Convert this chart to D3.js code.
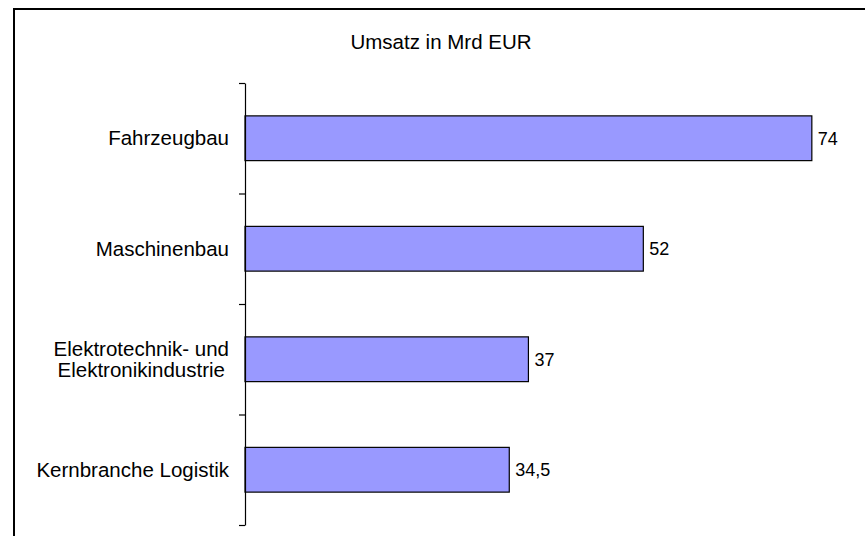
<!DOCTYPE html>
<html>
<head>
<meta charset="utf-8">
<script src="https://cdn.jsdelivr.net/npm/d3@7"></script>
<style>
  html, body { margin: 0; padding: 0; background: #fff; }
  svg { display: block; font-family: "Liberation Sans", Arial, sans-serif; }
</style>
</head>
<body>
<svg id="chart" width="865" height="536"></svg>
<script>
// ---- data ----
const title = "Umsatz in Mrd EUR";
const categories = ["Fahrzeugbau", "Maschinenbau", "Elektrotechnik- und\nElektronikindustrie", "Kernbranche Logistik"];
const values = [74, 52, 37, 34.5];
const valueLabels = ["74", "52", "37", "34,5"];

// ---- layout ----
const svg = d3.select("#chart");
const W = 865, H = 536;
const plot = { left: 245, top: 83, bottom: 525 };
const pxPerUnit = 7.66;

svg.append("rect").attr("width", W).attr("height", H).attr("fill", "#fff");

// outer frame (only top and left edges fall inside the picture)
svg.append("rect")
  .attr("x", 14).attr("y", 9)
  .attr("width", 880).attr("height", 600)
  .attr("fill", "none").attr("stroke", "#000").attr("stroke-width", 2);

// scales
const x = d3.scaleLinear().domain([0, 80]).range([plot.left, plot.left + 80 * pxPerUnit]);
const y = d3.scaleBand().domain(categories).range([plot.top, plot.bottom])
  .paddingInner(0.595).paddingOuter(0.2975);
const yTicks = d3.scaleLinear().domain([0, categories.length]).range([plot.top, plot.bottom]);

// title
svg.append("text")
  .attr("x", 441).attr("y", 49)
  .attr("text-anchor", "middle")
  .attr("font-size", "20.5px").attr("fill", "#000")
  .text(title);

// bars
svg.append("g").selectAll("rect")
  .data(categories)
  .join("rect")
  .attr("x", x(0))
  .attr("y", d => y(d))
  .attr("width", (d, i) => x(values[i]) - x(0))
  .attr("height", y.bandwidth())
  .attr("fill", "#9999FF")
  .attr("stroke", "#000")
  .attr("stroke-width", 1.2);

// axis with ticks at category boundaries
const axisG = svg.append("g")
  .attr("transform", `translate(${plot.left},0)`)
  .call(d3.axisLeft(yTicks)
    .tickValues(d3.range(categories.length + 1))
    .tickFormat("")
    .tickSizeInner(6)
    .tickSizeOuter(0));
axisG.select(".domain").attr("stroke", "#000").attr("stroke-width", 1.2);
axisG.selectAll(".tick line").attr("stroke", "#000").attr("stroke-width", 1.2);

// category labels
const labG = svg.append("g");
categories.forEach((c, i) => {
  const lines = c.split("\n");
  const cy = y(c) + y.bandwidth() / 2;
  const lineH = 21;
  const t = labG.append("text")
    .attr("font-size", "20.5px").attr("fill", "#000");
  lines.forEach((ln, j) => {
    t.append("tspan")
      .attr("x", 0)
      .attr("y", cy + (j - (lines.length - 1) / 2) * lineH)
      .attr("dy", "0.35em")
      .text(ln);
  });
  // lines are centered among themselves, block right-aligned to 229
  const widths = t.selectAll("tspan").nodes().map(n => n.getComputedTextLength());
  const maxW = d3.max(widths);
  const center = 229 - maxW / 2;
  t.attr("text-anchor", "middle");
  t.selectAll("tspan").attr("x", center);
});

// value labels
svg.append("g").selectAll("text")
  .data(categories)
  .join("text")
  .attr("x", (d, i) => x(values[i]) + 6)
  .attr("y", d => y(d) + y.bandwidth() / 2)
  .attr("dy", "0.35em")
  .attr("font-size", "18px").attr("fill", "#000")
  .text((d, i) => valueLabels[i]);
</script>
</body>
</html>
